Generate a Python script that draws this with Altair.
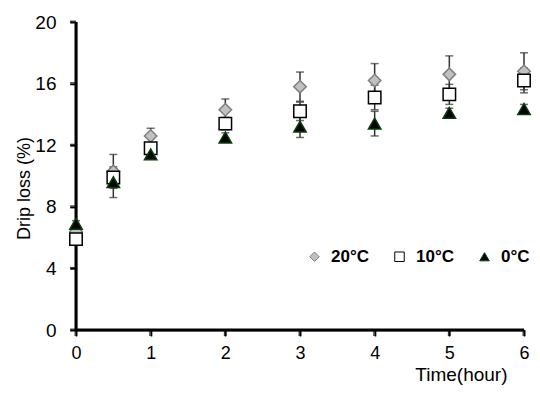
import altair as alt
import pandas as pd

times = [0, 0.5, 1, 2, 3, 4, 5, 6]
series_names = ["20°C", "10°C", "0°C"]
d20 = [6.4, 10.3, 12.6, 14.3, 15.8, 16.2, 16.6, 16.8]
d20_sd = [0.2, 1.1, 0.5, 0.7, 0.95, 1.1, 1.2, 1.2]
d10 = [5.9, 9.9, 11.8, 13.4, 14.2, 15.1, 15.3, 16.2]
d10_sd = [0.2, 0.6, 0.3, 0.4, 0.6, 0.8, 0.65, 0.8]
d0 = [6.9, 9.6, 11.4, 12.5, 13.2, 13.4, 14.1, 14.35]
d0_sd = [0.2, 1.0, 0.3, 0.3, 0.7, 0.8, 0.3, 0.3]
x_ticks = [0, 1, 2, 3, 4, 5, 6]
y_ticks = [0, 4, 8, 12, 16, 20]

rows = []
for name, vals, sds in zip(series_names, [d20, d10, d0], [d20_sd, d10_sd, d0_sd]):
    for t, v, s in zip(times, vals, sds):
        rows.append({"time": t, "series": name, "value": v, "lo": v - s, "hi": v + s})
df = pd.DataFrame(rows)

xscale = alt.Scale(domain=[x_ticks[0], x_ticks[-1]], nice=False)
yscale = alt.Scale(domain=[y_ticks[0], y_ticks[-1]], nice=False)

xaxis = alt.Axis(values=x_ticks, title="Time(hour)", grid=False,
                 domain=True, ticks=True, labelFlush=False,
                 domainColor="#000000", domainWidth=1.5, tickColor="#000000", tickWidth=1.5, tickSize=6,
                 titleAnchor="end", titleAlign="right", titleX=431, titleY=50,
                 titleBaseline="alphabetic", titleFontSize=19, titleFontWeight="normal",
                 labelFontSize=18, labelPadding=8, format="d")
yaxis = alt.Axis(values=y_ticks, title="Drip loss (%)", grid=False,
                 domain=True, ticks=True, labelFlush=False,
                 domainColor="#000000", domainWidth=1.5, tickColor="#000000", tickWidth=1.5, tickSize=6,
                 titleFontSize=18, titleFontWeight="normal", titleX=-43, titleY=166,
                 labelFontSize=19, labelPadding=14)

X = lambda f: alt.X(f, scale=xscale, axis=xaxis)
Y = lambda f: alt.Y(f, scale=yscale, axis=yaxis)

base = alt.Chart(df)
one = base.transform_aggregate(n="count()")
xt_df = pd.DataFrame({"x": x_ticks})
yt_df = pd.DataFrame({"y": y_ticks})

axis_layers = []
for off in [-0.75, 0.75]:
    axis_layers.append(one.mark_rule(color="black", strokeWidth=1.5, yOffset=off).encode(
        x=alt.X(datum=x_ticks[0], scale=xscale, axis=xaxis), x2=alt.X2(datum=x_ticks[-1]),
        y=alt.Y(datum=y_ticks[0], scale=yscale, axis=yaxis)))
    axis_layers.append(one.mark_rule(color="black", strokeWidth=1.5, xOffset=off).encode(
        x=alt.X(datum=x_ticks[0], scale=xscale, axis=xaxis),
        y=alt.Y(datum=y_ticks[0], scale=yscale, axis=yaxis), y2=alt.Y2(datum=y_ticks[-1])))
    axis_layers.append(alt.Chart(xt_df).mark_tick(
        color="black", thickness=1.5, size=6, orient="vertical", yOffset=3, xOffset=off).encode(
        x=X("x:Q"), y=alt.Y(datum=y_ticks[0], scale=yscale, axis=yaxis)))
    axis_layers.append(alt.Chart(yt_df).mark_tick(
        color="black", thickness=1.5, size=6, orient="horizontal", xOffset=-3, yOffset=off).encode(
        x=alt.X(datum=x_ticks[0], scale=xscale, axis=xaxis), y=Y("y:Q")))

rules = base.mark_rule(color="#333333", strokeWidth=1.5).encode(
    x=X("time:Q"), y=Y("lo:Q"), y2="hi:Q",
)
cap_lo = base.mark_tick(color="#333333", thickness=1.5, size=8, orient="horizontal").encode(
    x=X("time:Q"), y=Y("lo:Q")
)
cap_hi = base.mark_tick(color="#333333", thickness=1.5, size=8, orient="horizontal").encode(
    x=X("time:Q"), y=Y("hi:Q")
)

leg = alt.Legend(title=None, orient="none", legendX=230, legendY=226, direction="horizontal",
                 labelFontSize=17, labelFontWeight="bold", labelFont="Liberation Sans",
                 labelColor="black",
                 symbolSize=90, columnPadding=22, labelOffset=8, symbolStrokeWidth=1)

points = base.mark_point(filled=True, size=155, strokeWidth=1.5, opacity=1).encode(
    x=X("time:Q"),
    y=Y("value:Q"),
    shape=alt.Shape("series:N", scale=alt.Scale(domain=series_names,
                    range=["diamond", "square", "triangle-up"]), legend=leg, sort=series_names),
    fill=alt.Fill("series:N", scale=alt.Scale(domain=series_names,
                  range=["#c0c0c0", "#ffffff", "#000000"]), legend=leg, sort=series_names),
    stroke=alt.Stroke("series:N", scale=alt.Scale(domain=series_names,
                      range=["#7f7f7f", "#000000", "#0b3d0b"]), legend=leg, sort=series_names),
)

chart = alt.layer(*axis_layers, rules, cap_lo, cap_hi, points).properties(
    width=448, height=308,
    autosize=alt.AutoSizeParams(type="none"),
    padding={"left": 68, "top": 14, "right": 8, "bottom": 56},
).configure_view(stroke=None).configure_axis(
    labelColor="black", titleColor="black", labelFont="Liberation Sans", titleFont="Liberation Sans",
)

chart.save("out.html", embed_options={"renderer": "svg", "actions": False})
